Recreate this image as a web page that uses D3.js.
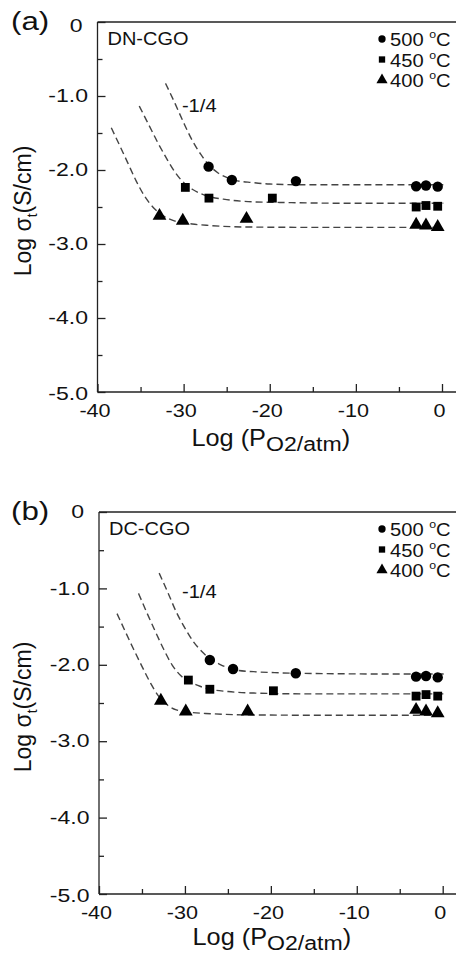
<!DOCTYPE html>
<html>
<head>
<meta charset="utf-8">
<script src="https://cdn.jsdelivr.net/npm/d3@7"></script>
<style>
  body { margin: 0; background: #fff; }
  svg { display: block; font-family: 'Liberation Sans', Arial, sans-serif; }
  .tick text { font-size: 18px; fill: #111; }
  .axis path, .axis line { stroke: #222; stroke-width: 1.3; }
</style>
</head>
<body>
<svg id="chart" width="456" height="958"></svg>
<script>
// tick values and labels
const xTicks = [-40, -30, -20, -10, 0];
const xMinorTicks = [-35, -25, -15, -5];
const yTicks = [0, -1, -2, -3, -4, -5];
const yMinorTicks = [-0.5, -1.5, -2.5, -3.5, -4.5];
const tempLabels = ['500', '450', '400'];
const markerShapes = ['circle', 'square', 'triangle'];

// (a) DN-CGO measured points [log pO2, log sigma]
const dn500 = [[-27.1, -1.955], [-24.4, -2.135], [-16.96, -2.15], [-3.0, -2.22], [-1.86, -2.21], [-0.5, -2.225]];
const dn450 = [[-29.8, -2.235], [-27.06, -2.38], [-19.7, -2.38], [-3.0, -2.5], [-1.86, -2.48], [-0.5, -2.49]];
const dn400 = [[-32.8, -2.62], [-30.1, -2.685], [-22.7, -2.66], [-3.0, -2.74], [-1.86, -2.75], [-0.5, -2.77]];

// (a) dashed fit curves
const dnFit500 = [[-32.1, -0.83], [-31, -1.1], [-30, -1.36], [-29, -1.6], [-28, -1.79], [-27, -1.94], [-26, -2.04], [-25, -2.1], [-24, -2.14], [-22, -2.17], [-20, -2.19], [-16, -2.2], [-10, -2.2], [0.15, -2.2]];
const dnFit450 = [[-35.15, -1.135], [-34, -1.4], [-33, -1.63], [-32, -1.84], [-31, -2.03], [-30, -2.17], [-29, -2.26], [-28, -2.32], [-27, -2.36], [-25, -2.4], [-22, -2.43], [-18, -2.44], [-10, -2.45], [0.15, -2.45]];
const dnFit400 = [[-38.4, -1.43], [-37.5, -1.65], [-36.5, -1.9], [-35.5, -2.15], [-34.5, -2.36], [-33.5, -2.51], [-32.5, -2.61], [-31, -2.69], [-29, -2.73], [-27, -2.75], [-23, -2.77], [-15, -2.775], [0.15, -2.775]];

// (b) DC-CGO measured points
const dc500 = [[-27.1, -1.937], [-24.4, -2.055], [-17.1, -2.11], [-3.1, -2.155], [-1.94, -2.147], [-0.58, -2.165]];
const dc450 = [[-29.6, -2.2], [-27.1, -2.32], [-19.7, -2.34], [-3.1, -2.41], [-1.94, -2.39], [-0.58, -2.41]];
const dc400 = [[-32.8, -2.47], [-29.9, -2.61], [-22.7, -2.61], [-3.1, -2.59], [-1.94, -2.61], [-0.58, -2.635]];

// (b) dashed fit curves
const dcFit500 = [[-33, -0.8], [-32, -1.05], [-31, -1.31], [-30, -1.52], [-29, -1.7], [-28, -1.83], [-27, -1.93], [-26, -1.99], [-25, -2.04], [-24, -2.07], [-22, -2.09], [-19, -2.105], [-14, -2.115], [-7, -2.12], [0.15, -2.12]];
const dcFit450 = [[-35.4, -1.065], [-34.5, -1.3], [-33.5, -1.55], [-32.5, -1.79], [-31.5, -2.0], [-30.5, -2.14], [-29.5, -2.22], [-28.5, -2.27], [-27.5, -2.31], [-25, -2.35], [-22, -2.37], [-16, -2.38], [0.15, -2.38]];
const dcFit400 = [[-37.9, -1.33], [-37, -1.55], [-36, -1.79], [-35, -2.02], [-34, -2.24], [-33, -2.42], [-32, -2.53], [-31, -2.59], [-29.5, -2.62], [-27, -2.64], [-23, -2.655], [-15, -2.66], [0.15, -2.66]];

const svg = d3.select('#chart');
// the source figure is slightly stretched sideways, numbers most of all
const numStretch = 1.28;

function symbolPath(shape, size) {
  const type = shape === 'circle' ? d3.symbolCircle : shape === 'square' ? d3.symbolSquare : d3.symbolTriangle;
  return d3.symbol().type(type).size(size)();
}

function drawPanel(p) {
  const xScale = d3.scaleLinear().domain([-40, 0]).range([p.left, p.zeroX]);
  const yScale = d3.scaleLinear().domain([-5, 0]).range([p.bottom, p.top]);
  const g = svg.append('g');

  // frame (right side runs off the picture)
  g.append('line')
    .attr('x1', p.left).attr('x2', 470)
    .attr('y1', p.top).attr('y2', p.top)
    .attr('stroke', '#222').attr('stroke-width', 1.3);

  // Y axis
  g.append('g')
    .attr('class', 'axis')
    .attr('transform', 'translate(' + p.left + ',0)')
    .call(d3.axisLeft(yScale).tickValues(yTicks).tickSize(-8).tickPadding(9)
      .tickFormat((d) => (d === 0 ? '0' : d.toFixed(1))))
    .call((a) => a.select('.domain').attr('d', 'M0,' + p.top + 'V' + p.bottom))
    .call((a) => a.selectAll('.tick text')
      .attr('transform', 'scale(' + numStretch + ',1)')
      .attr('x', (d) => (d === 0 ? -15 : -9.5) / numStretch)
      .attr('dy', (d) => (d === 0 ? p.zeroDy : d === -5 ? '0.42em' : '0.32em')));
  g.append('g')
    .attr('class', 'axis')
    .attr('transform', 'translate(' + p.left + ',0)')
    .call(d3.axisLeft(yScale).tickValues(yMinorTicks).tickSize(-5).tickFormat(''))
    .call((a) => a.select('.domain').remove());

  // X axis
  g.append('g')
    .attr('class', 'axis')
    .attr('transform', 'translate(0,' + p.bottom + ')')
    .call(d3.axisBottom(xScale).tickValues(xTicks).tickSize(-8).tickPadding(12)
      .tickFormat((d) => String(d)))
    .call((a) => a.select('.domain').attr('d', 'M' + p.left + ',0H470'))
    .call((a) => a.selectAll('.tick text')
      .attr('transform', 'scale(1.2,1)')
      .attr('x', -3 / 1.2));
  g.append('g')
    .attr('class', 'axis')
    .attr('transform', 'translate(0,' + p.bottom + ')')
    .call(d3.axisBottom(xScale).tickValues(xMinorTicks).tickSize(-5).tickFormat(''))
    .call((a) => a.select('.domain').remove());

  // fit curves
  const line = d3.line()
    .x((d) => xScale(d[0]))
    .y((d) => yScale(d[1]))
    .curve(d3.curveMonotoneX);
  p.fits.forEach((fit) => {
    g.append('path')
      .datum(fit)
      .attr('fill', 'none')
      .attr('stroke', '#444')
      .attr('stroke-width', 1.4)
      .attr('stroke-dasharray', '7,4')
      .attr('d', line);
  });

  // measured points
  const sizes = { circle: 85, square: 78, triangle: 82 };
  p.points.forEach((pts, i) => {
    const shape = markerShapes[i];
    g.selectAll(null)
      .data(pts)
      .enter()
      .append('path')
      .attr('d', symbolPath(shape, sizes[shape]))
      .attr('transform', (d) => 'translate(' + xScale(d[0]) + ',' + yScale(d[1]) + ')')
      .attr('fill', '#000');
  });

  // sample name
  g.append('text')
    .attr('transform', 'translate(' + (p.left + 10) + ',' + (p.top + 23) + ') scale(1.08,1)')
    .attr('font-size', 18.5)
    .attr('fill', '#111')
    .text(p.name);

  // legend
  const legendSizes = { circle: 42, square: 40, triangle: 54 };
  tempLabels.forEach((t, i) => {
    const cy = p.top + 17 + i * 20.5;
    g.append('path')
      .attr('d', symbolPath(markerShapes[i], legendSizes[markerShapes[i]]))
      .attr('transform', 'translate(382,' + cy + ')')
      .attr('fill', '#000');
    const txt = g.append('text')
      .attr('transform', 'translate(390,' + (cy + 7) + ') scale(1.12,1)')
      .attr('font-size', 18)
      .attr('fill', '#111');
    txt.append('tspan').text(t + ' ');
    txt.append('tspan').attr('font-size', 11).attr('dy', -8).text('o');
    txt.append('tspan').attr('dy', 8).text('C');
  });

  // slope annotation
  g.append('text')
    .attr('transform', 'translate(' + xScale(p.slopeAt[0]) + ',' + yScale(p.slopeAt[1]) + ') scale(1.12,1)')
    .attr('font-size', 18)
    .attr('fill', '#111')
    .text('-1/4');

  // panel label
  g.append('text')
    .attr('transform', 'translate(11,' + (p.top + 8) + ') scale(1.25,1)')
    .attr('font-size', 25)
    .attr('fill', '#111')
    .text(p.label);

  // y title
  const yt = g.append('text')
    .attr('transform', 'translate(31,' + ((p.top + p.bottom) / 2 + 4) + ') rotate(-90)')
    .attr('text-anchor', 'middle')
    .attr('font-size', 23)
    .attr('fill', '#111');
  yt.append('tspan').text('Log σ');
  yt.append('tspan').attr('font-size', 14).attr('dy', 6).text('t');
  yt.append('tspan').attr('dy', -6).text('(S/cm)');

  // x title
  const xt = g.append('text')
    .attr('transform', 'translate(' + (xScale(-20) + 1) + ',' + (p.bottom + p.titleGap) + ') scale(1.1,1)')
    .attr('text-anchor', 'middle')
    .attr('font-size', 23)
    .attr('fill', '#111');
  xt.append('tspan').text('Log (P');
  xt.append('tspan').attr('font-size', 21).attr('dy', 5).text('O2/atm');
  xt.append('tspan').attr('dy', -5).text(')');
}

drawPanel({
  label: '(a)', name: 'DN-CGO', top: 22, bottom: 392, left: 97.5, zeroX: 442, zeroDy: '0.5em', titleGap: 54,
  points: [dn500, dn450, dn400], fits: [dnFit500, dnFit450, dnFit400], slopeAt: [-30.2, -1.22]
});
drawPanel({
  label: '(b)', name: 'DC-CGO', top: 512, bottom: 894, left: 99, zeroX: 442.7, zeroDy: '0.32em', titleGap: 51,
  points: [dc500, dc450, dc400], fits: [dcFit500, dcFit450, dcFit400], slopeAt: [-30.35, -1.13]
});
</script>
</body>
</html>
